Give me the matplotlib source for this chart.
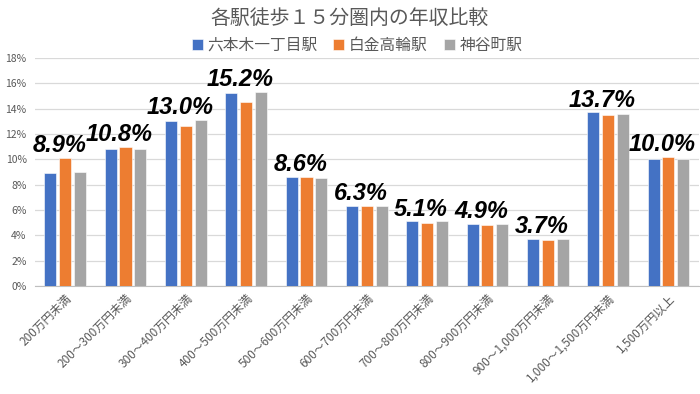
import numpy as np
import matplotlib.pyplot as plt
from matplotlib.ticker import FuncFormatter

plt.rcParams['font.family'] = ['Noto Sans CJK JP', 'DejaVu Sans']

categories = ["200万円未満", "200～300万円未満", "300～400万円未満", "400～500万円未満",
              "500～600万円未満", "600～700万円未満", "700～800万円未満", "800～900万円未満",
              "900～1,000万円未満", "1,000～1,500万円未満", "1,500万円以上"]
roppongi = [8.9, 10.8, 13.0, 15.2, 8.6, 6.3, 5.1, 4.9, 3.7, 13.7, 10.0]
shirokane = [10.1, 11.0, 12.6, 14.5, 8.6, 6.3, 5.0, 4.8, 3.6, 13.5, 10.2]
kamiyacho = [9.0, 10.8, 13.1, 15.3, 8.5, 6.3, 5.1, 4.9, 3.7, 13.6, 10.0]
series_names = ["六本木一丁目駅", "白金高輪駅", "神谷町駅"]
colors = ["#4472C4", "#ED7D31", "#A5A5A5"]

fig = plt.figure(figsize=(7, 3.94), dpi=100)
ax = fig.add_axes([0.05, 0.274, 0.948, 0.579])

x = np.arange(len(categories))
w = 0.2
for i, (vals, name, c) in enumerate(zip([roppongi, shirokane, kamiyacho], series_names, colors)):
    ax.bar(x + (i - 1) * 0.245, vals, w, color=c, label=name, edgecolor="white", linewidth=0.4, zorder=3)

# labels show the first station's value, placed above the tallest bar
for xi, v, a, b in zip(x, roppongi, shirokane, kamiyacho):
    top = max(v, a, b)
    ax.text(xi - 0.1, top + 0.45, f"{v:.1f}%", ha="center", va="baseline",
            fontsize=17, fontweight="bold", style="italic", family=["Liberation Sans"], color="black", zorder=4)

ax.set_xlim(-0.5, len(categories) - 0.5)
ax.set_ylim(0, 18)
ax.set_yticks(np.arange(0, 19, 2))
ax.yaxis.set_major_formatter(FuncFormatter(lambda v, p: f"{v:.0f}%"))
ax.grid(axis="y", color="#D9D9D9", linewidth=0.9, zorder=0)
for s in ["top", "right", "left"]:
    ax.spines[s].set_visible(False)
ax.spines["bottom"].set_color("#BFBFBF")
ax.tick_params(axis="both", length=0, colors="#595959", labelsize=7.5)
ax.tick_params(axis="y", pad=6)
ax.tick_params(axis="x", pad=4)
ax.set_xticks(x)
ax.set_xticklabels(categories, rotation=45, ha="right", rotation_mode="anchor", fontsize=8.5, color="#595959")

fig.text(0.5, 0.952, "各駅徒歩１５分圏内の年収比較", ha="center", va="center", fontsize=14.3, color="#595959")
fig.legend(loc="center", bbox_to_anchor=(0.51, 0.885), ncol=3, frameon=False, fontsize=11.3,
           handlelength=0.7, handleheight=0.7, handletextpad=0.3, columnspacing=1.0, labelcolor="#595959")

fig.savefig("out.png", dpi=100)
